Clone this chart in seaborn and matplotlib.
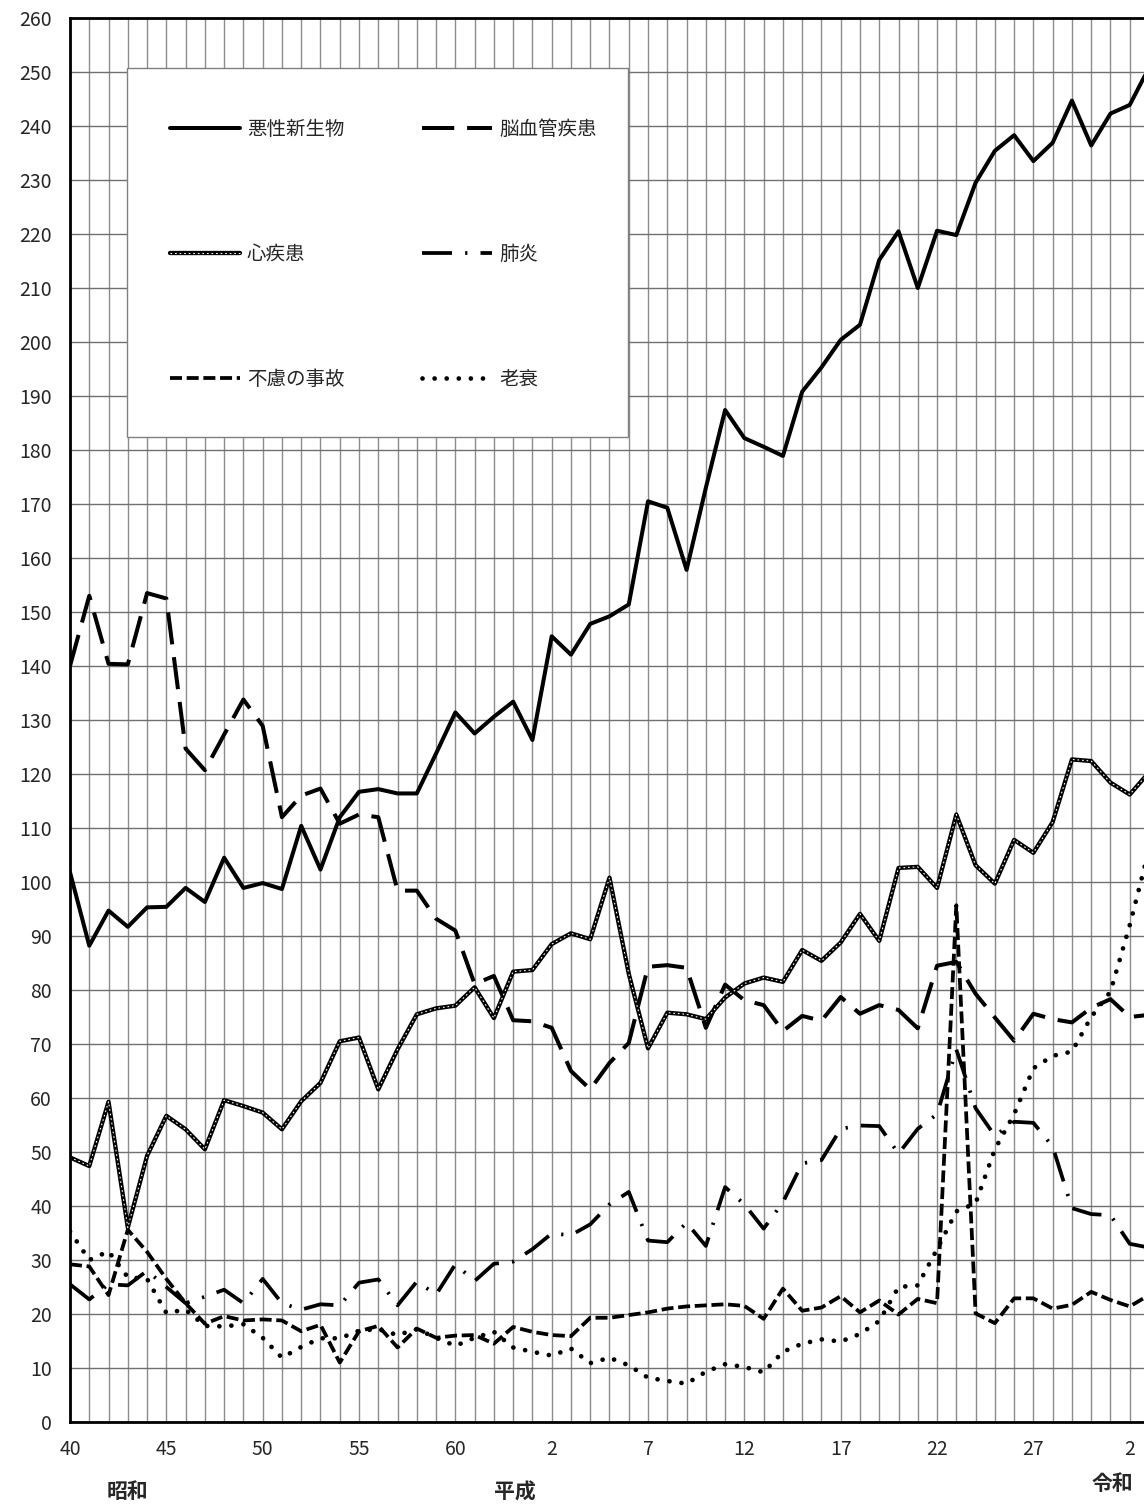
import matplotlib
matplotlib.use("Agg")
import matplotlib.pyplot as plt
from matplotlib.legend_handler import HandlerTuple
from matplotlib.lines import Line2D
from matplotlib.patches import Rectangle
import seaborn as sns
import pandas as pd

# 昭和40年(1965) - 令和3年(2021), 人口10万対
years = list(range(1965, 2022))

malignant = [101.8, 88.2, 94.7, 91.7, 95.3, 95.4, 98.9, 96.3, 104.5, 98.9,
             99.8, 98.7, 110.4, 102.3, 112.0, 116.7, 117.2, 116.4, 116.4, 123.8,
             131.4, 127.5, 130.6, 133.4, 126.3, 145.5, 142.1, 147.8, 149.2, 151.4,
             170.5, 169.3, 157.8, 173.0, 187.4, 182.2, 180.6, 178.9, 190.8, 195.3,
             200.4, 203.2, 215.2, 220.5, 210.0, 220.6, 219.8, 229.5, 235.4, 238.3,
             233.5, 236.9, 244.7, 236.4, 242.3, 243.9, 250.8]
cerebro = [140.0, 153.0, 140.4, 140.3, 153.5, 152.5, 124.7, 120.7, 127.3, 133.8,
           128.9, 112.0, 116.0, 117.3, 110.8, 112.5, 112.0, 98.4, 98.4, 93.2,
           91.0, 81.1, 82.6, 74.4, 74.2, 73.0, 65.0, 61.6, 66.5, 70.2,
           84.3, 84.6, 84.1, 73.0, 81.0, 78.1, 77.2, 72.4, 75.2, 74.3,
           78.7, 75.6, 77.2, 76.3, 72.9, 84.5, 85.2, 79.3, 74.9, 70.6,
           75.6, 74.6, 74.0, 76.7, 78.3, 75.0, 75.4]
heart = [49.0, 47.4, 59.3, 36.0, 49.3, 56.7, 54.2, 50.5, 59.6, 58.5,
         57.3, 54.2, 59.4, 62.8, 70.5, 71.2, 61.6, 69.0, 75.5, 76.6,
         77.1, 80.5, 74.8, 83.4, 83.7, 88.5, 90.5, 89.4, 100.8, 83.0,
         69.2, 75.8, 75.5, 74.6, 78.6, 81.2, 82.3, 81.5, 87.4, 85.4,
         88.8, 94.1, 89.1, 102.6, 102.8, 98.9, 112.5, 103.1, 99.7, 107.8,
         105.4, 111.1, 122.7, 122.4, 118.4, 116.2, 120.3]
pneumonia = [25.5, 22.7, 25.5, 25.3, 28.0, 25.0, 22.0, 23.2, 24.5, 22.0,
             26.5, 22.0, 20.8, 21.8, 21.6, 25.8, 26.4, 21.6, 26.0, 23.6,
             29.2, 26.1, 29.3, 29.7, 32.0, 34.9, 34.6, 36.6, 40.3, 42.6,
             33.6, 33.3, 36.9, 32.6, 43.5, 40.3, 35.8, 40.7, 47.9, 48.5,
             54.3, 54.9, 54.8, 49.7, 54.3, 57.0, 69.0, 58.1, 53.0, 55.6,
             55.4, 51.0, 39.6, 38.5, 38.3, 33.0, 32.3]
accident = [29.2, 28.8, 23.5, 35.6, 31.5, 26.5, 22.0, 18.2, 19.6, 18.8,
            19.0, 18.8, 16.8, 18.0, 11.0, 16.8, 17.8, 13.8, 17.3, 15.6,
            16.0, 16.1, 14.5, 17.6, 16.7, 16.1, 15.9, 19.3, 19.3, 19.8,
            20.3, 21.0, 21.4, 21.6, 21.8, 21.5, 19.1, 24.7, 20.6, 21.2,
            23.3, 20.3, 22.5, 19.9, 22.8, 22.0, 95.7, 20.1, 18.3, 22.9,
            22.9, 21.0, 21.7, 24.1, 22.6, 21.4, 23.5]
senility = [35.3, 30.0, 31.6, 26.8, 26.5, 20.2, 20.8, 17.8, 17.7, 18.1,
            15.6, 11.9, 13.9, 15.5, 15.5, 16.9, 17.2, 16.1, 17.2, 15.6,
            14.1, 15.6, 16.7, 13.8, 13.0, 12.3, 13.6, 10.9, 11.9, 10.5,
            8.2, 7.6, 7.1, 9.3, 10.7, 10.2, 9.2, 13.0, 14.5, 15.3,
            14.9, 16.3, 18.7, 25.0, 25.3, 32.0, 39.0, 40.5, 50.5, 57.0,
            65.5, 67.8, 68.6, 75.0, 79.7, 92.0, 106.0]

tick_years = list(range(1965, 2021, 5))
tick_labels = ['40', '45', '50', '55', '60', '2', '7', '12', '17', '22', '27', '2']
eras = ['昭和', '平成', '令和']

df = pd.DataFrame({'年': years, '悪性新生物': malignant, '脳血管疾患': cerebro,
                   '心疾患': heart, '肺炎': pneumonia, '不慮の事故': accident,
                   '老衰': senility})

sns.set_style("white")
plt.rcParams['font.family'] = ['Noto Sans CJK JP', 'DejaVu Sans']

W, H = 1144, 1504
fig = plt.figure(figsize=(W / 100, H / 100), dpi=100)
ax = fig.add_axes([70 / W, 82 / H, 1079 / W, 1404 / H])

# line styles, shared by plot and legend
st_mal = dict(color='black', linewidth=2.9)
st_cer = dict(color='black', linewidth=2.9, linestyle=(0, (8.0, 3.2)))
st_hrt_k = dict(color='black', linewidth=3.1)
st_hrt_w = dict(color='white', linewidth=0.8, linestyle=(0, (1.5, 2.6)))
st_pne = dict(color='black', linewidth=2.7, linestyle=(0, (8.0, 3.5, 0.6, 3.5)))
st_acc = dict(color='black', linewidth=2.7, linestyle=(0, (3.2, 1.25)))
st_sen = dict(color='black', linewidth=3.4, linestyle=(0, (0.01, 2.55)), dash_capstyle='round')

sns.lineplot(data=df, x='年', y='悪性新生物', ax=ax, **st_mal)
sns.lineplot(data=df, x='年', y='脳血管疾患', ax=ax, **st_cer)
sns.lineplot(data=df, x='年', y='心疾患', ax=ax, **st_hrt_k)
sns.lineplot(data=df, x='年', y='心疾患', ax=ax, **st_hrt_w)
sns.lineplot(data=df, x='年', y='肺炎', ax=ax, **st_pne)
sns.lineplot(data=df, x='年', y='不慮の事故', ax=ax, **st_acc)
sns.lineplot(data=df, x='年', y='老衰', ax=ax, **st_sen)

# legend: white box + entries
box = Rectangle((127 / W, 1 - 437 / H), 501 / W, 369 / H, transform=fig.transFigure,
                facecolor='white', edgecolor='#808080', linewidth=1.0, zorder=4)
ax.add_patch(box)
box.set_clip_on(False)

handles = [Line2D([], [], **st_mal),
           (Line2D([], [], **st_hrt_k), Line2D([], [], **st_hrt_w)),
           Line2D([], [], **st_acc),
           Line2D([], [], **st_cer),
           Line2D([], [], **st_pne),
           Line2D([], [], **st_sen)]
labels = ['悪性新生物', '心疾患', '不慮の事故', '脳血管疾患', '肺炎', '老衰']
leg = ax.legend(handles, labels, handler_map={tuple: HandlerTuple(ndivide=1)},
                ncol=2, loc='upper left', bbox_to_anchor=(170 / W, 1 - 119 / H),
                bbox_transform=fig.transFigure, borderaxespad=0, borderpad=0,
                fontsize=14, frameon=False, labelspacing=5.35,
                handlelength=3.6, handletextpad=0.36, columnspacing=4.0)
leg.set_zorder(5)

# axes, grid
ax.set_xlim(1965, 2021)
ax.set_ylim(0, 260)
ax.set_yticks(range(0, 261, 10))
ax.set_xticks(tick_years)
ax.set_xticklabels(tick_labels)
ax.set_xticks(years, minor=True)
ax.set_xlabel('')
ax.set_ylabel('')
ax.set_axisbelow(True)
ax.grid(which='both', axis='x', color='#8c8c8c', linewidth=1.0)
ax.grid(which='major', axis='y', color='#707070', linewidth=1.0)
ax.tick_params(axis='both', which='both', length=0, labelsize=14)
ax.tick_params(axis='y', pad=13)
ax.tick_params(axis='x', pad=12)
for side in ['top', 'left', 'bottom']:
    ax.spines[side].set_color('black')
    ax.spines[side].set_linewidth(2.0)
ax.spines['right'].set_visible(False)

# era names under the axis
fig.text(127 / W, 1 - 1492 / H, eras[0], ha='center', va='center', fontsize=15, fontweight='bold')
fig.text(515 / W, 1 - 1492 / H, eras[1], ha='center', va='center', fontsize=15, fontweight='bold')
fig.text(1112 / W, 1 - 1483 / H, eras[2], ha='center', va='center', fontsize=15, fontweight='bold')

fig.savefig('out.png', dpi=100)
